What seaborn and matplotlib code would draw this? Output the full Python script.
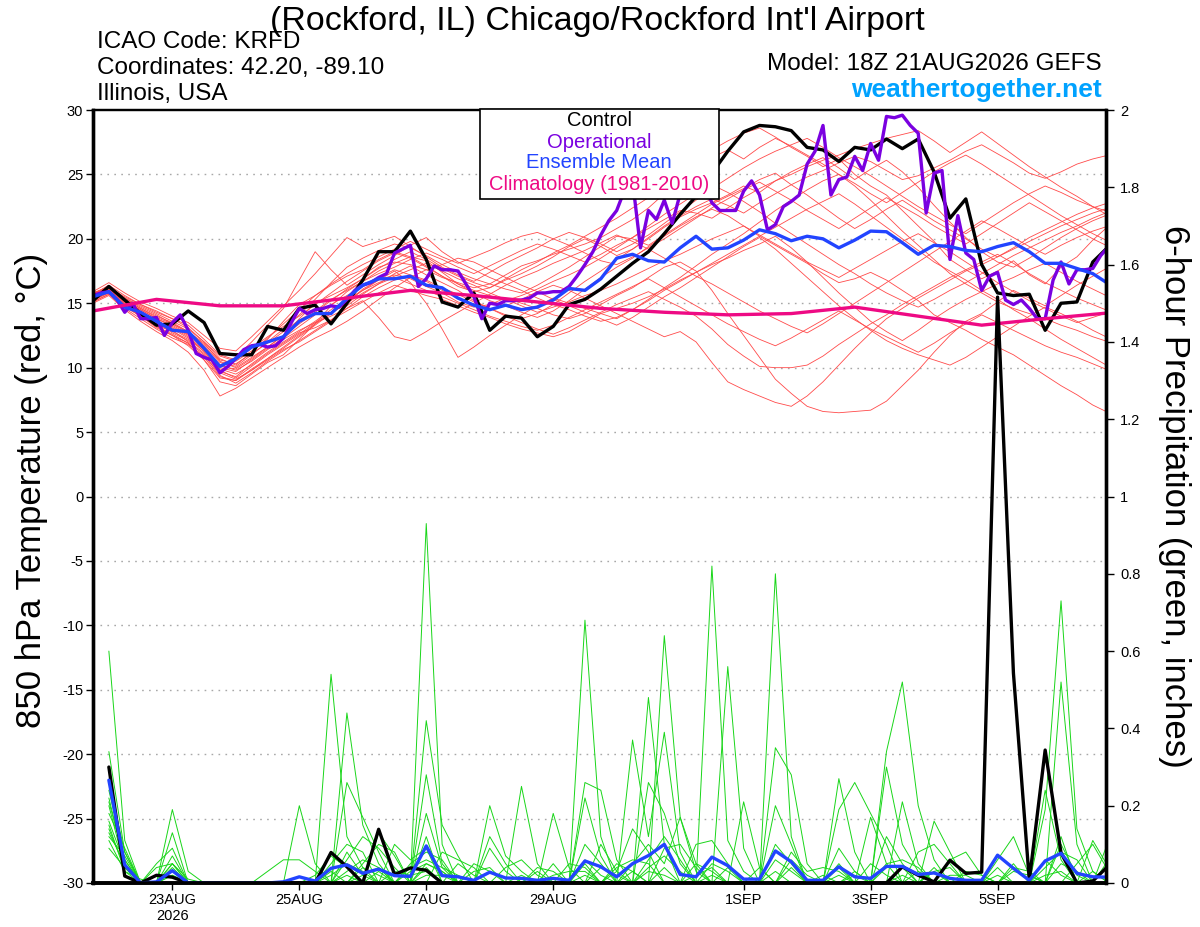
import numpy as np
import pandas as pd
import matplotlib
matplotlib.use("Agg")
import matplotlib.pyplot as plt
import seaborn as sns
from matplotlib.patches import Rectangle
from matplotlib.ticker import FormatStrFormatter

# GEFS 18Z 21AUG2026, KRFD.  Temps are 6-hourly from the init time,
# precip is 6-hour totals ending at each step (first one at +6h).

control_t = [15.2, 16.3, 15.25, 14.2, 13.3, 13.4, 14.4, 13.5, 11.1, 11.0, 11.0,
             13.2, 12.9, 14.6, 14.85, 13.4, 15.0, 16.8, 19.0, 19.0, 20.6,
             18.4, 15.1, 14.7, 15.8, 12.9, 14.0, 13.85, 12.4, 13.2, 14.9,
             15.3, 16.1, 17.1, 18.1, 19.0, 20.4, 21.9, 23.3, 25.1, 26.8,
             28.3, 28.8, 28.7, 28.4, 27.1, 26.9, 26.0, 27.1, 26.9, 27.75,
             27.0, 27.75, 25.2, 21.6, 23.1, 18.0, 15.8, 15.6, 15.7, 12.9,
             15.0, 15.1, 18.2, 19.4]

mean_t = [15.5, 15.9, 14.7, 14.3, 13.6, 12.9, 12.8, 11.5, 10.1, 10.7, 11.6,
          12.0, 12.4, 13.6, 14.2, 14.2, 15.4, 16.4, 16.9, 16.9, 17.1,
          16.4, 16.2, 15.4, 14.85, 14.5, 14.85, 14.5, 14.7, 15.25, 16.15,
          16.0, 16.9, 18.5, 18.8, 18.3, 18.2, 19.3, 20.2, 19.2, 19.3,
          19.9, 20.7, 20.4, 19.85, 20.2, 20.0, 19.3, 19.9, 20.6, 20.55,
          19.7, 18.8, 19.5, 19.4, 19.1, 19.0, 19.4, 19.7, 19.0, 18.1,
          18.1, 17.7, 17.3, 16.5]

# operational run comes in 3-hourly
oper_t = [15.6, 15.8, 15.9, 15.3, 14.3, 15.0, 13.8, 13.8, 13.9, 12.5,
          13.5, 14.1, 12.9, 11.1, 10.8, 10.6, 9.6, 10.1, 10.7, 11.4,
          11.7, 11.8, 11.6, 11.7, 12.3, 13.5, 14.6, 14.2, 14.5, 14.6,
          14.8, 14.7, 15.3, 16.0, 16.4, 16.6, 17.0, 17.3, 18.9, 19.2,
          19.5, 16.3, 16.9, 17.9, 17.6, 17.6, 17.5, 16.5, 15.5, 13.8,
          15.0, 14.9, 15.2, 15.2, 15.25, 15.4, 15.8, 15.8, 15.9, 15.9,
          16.3, 17.1, 18.0, 19.0, 20.3, 21.4, 22.2, 23.8, 24.5, 19.3,
          22.2, 21.5, 23.0, 21.2, 23.5, 24.5, 25.2, 24.2, 22.8, 22.2,
          22.2, 22.2, 23.7, 24.5, 23.4, 20.7, 21.1, 22.5, 22.9, 23.4,
          25.8, 26.8, 28.8, 23.4, 24.6, 24.8, 26.4, 25.3, 27.4, 26.1,
          29.5, 29.4, 29.6, 28.8, 28.2, 22.0, 25.1, 25.3, 18.4, 21.8,
          18.9, 18.4, 16.0, 17.1, 17.4, 15.25, 14.9, 15.25, 14.6, 13.8,
          13.8, 16.8, 18.2, 16.5, 17.6, 17.6, 17.7, 18.7, 19.4]

# 1981-2010 climatology, one value per day
clim_t = [14.4, 15.3, 14.8, 14.8, 15.4, 16.0, 15.6, 15.1, 14.6,
          14.3, 14.1, 14.2, 14.7, 14.0, 13.3, 13.8, 14.25]

# perturbed members (approximate, traced by eye)
t01 = [15.6, 16.4, 15.3, 14.6, 14.0, 13.5, 12.8, 11.9, 10.5, 10.0, 10.8,
       11.6, 12.5, 13.8, 15.0, 15.6, 16.2, 16.9, 17.8, 18.2, 18.0,
       17.6, 17.0, 16.6, 16.2, 16.5, 17.2, 17.9, 18.3, 18.8, 19.2,
       19.6, 20.1, 20.8, 21.5, 22.4, 23.5, 24.6, 25.8, 26.9, 27.6,
       28.2, 28.6, 27.9, 27.1, 26.4, 25.6, 26.2, 25.0, 24.1, 23.4,
       22.2, 21.0, 19.8, 18.4, 17.6, 16.9, 17.5, 18.3, 17.2, 16.5,
       17.8, 18.6, 19.9, 21.0]
t02 = [15.2, 15.9, 15.0, 14.2, 13.3, 12.8, 12.2, 11.3, 9.8, 9.2, 10.1,
       11.0, 11.8, 12.6, 13.5, 14.3, 15.0, 16.1, 16.8, 17.2, 16.9,
       16.3, 15.8, 15.1, 14.7, 14.9, 15.4, 15.0, 14.6, 14.1, 13.8,
       14.2, 14.9, 15.6, 16.2, 17.0, 17.8, 18.2, 17.5, 16.0, 14.2,
       12.5, 10.8, 9.1, 8.0, 7.0, 6.6, 6.5, 6.6, 6.7, 7.4,
       8.6, 9.8, 11.2, 12.5, 13.6, 14.2, 15.1, 16.0, 15.4, 14.8,
       15.6, 16.4, 17.1, 17.8]
t03 = [15.4, 16.0, 14.8, 14.0, 13.2, 12.6, 11.9, 10.6, 8.9, 8.6, 9.5,
       10.4, 11.0, 12.2, 13.4, 14.8, 15.9, 16.7, 17.5, 18.1, 18.6,
       18.3, 17.4, 16.5, 15.8, 15.2, 14.8, 14.3, 13.9, 14.4, 15.2,
       16.1, 17.0, 17.8, 18.5, 19.4, 20.2, 21.0, 21.7, 22.3, 21.8,
       21.0, 20.2, 19.5, 18.8, 18.1, 17.3, 16.6, 16.9, 17.4, 16.8,
       16.0, 15.2, 14.1, 13.5, 12.9, 12.2, 11.6, 11.0, 10.2, 9.4,
       8.6, 7.9, 7.1, 6.5]
t04 = [15.8, 16.2, 15.5, 14.9, 14.3, 13.8, 13.1, 12.0, 10.9, 10.5, 11.3,
       12.2, 13.6, 14.9, 15.6, 16.4, 17.1, 17.6, 18.4, 19.0, 18.6,
       17.9, 17.1, 16.3, 15.9, 16.2, 16.8, 17.3, 17.9, 18.6, 19.4,
       20.0, 19.4, 18.7, 19.2, 20.1, 21.0, 21.8, 22.5, 23.1, 22.6,
       22.0, 22.8, 23.5, 24.2, 24.8, 25.3, 25.9, 26.4, 26.0, 25.3,
       24.6, 24.9, 25.5, 26.1, 26.8, 27.3, 26.6, 25.9, 25.1, 24.7,
       25.2, 25.8, 26.2, 26.5]
t05 = [15.1, 15.7, 14.6, 13.8, 13.0, 12.3, 11.8, 10.9, 9.6, 9.1, 9.8,
       10.6, 11.4, 12.0, 12.8, 13.6, 14.8, 15.7, 16.5, 17.3, 17.9,
       17.2, 16.6, 16.0, 15.2, 14.6, 14.1, 13.8, 14.2, 14.9, 15.8,
       16.7, 17.5, 18.4, 19.2, 20.0, 20.9, 21.7, 22.3, 22.8, 23.4,
       24.1, 23.6, 24.5, 25.2, 25.8, 26.3, 25.5, 24.6, 25.4, 26.1,
       25.2, 24.0, 22.6, 21.3, 20.1, 19.0, 18.2, 17.8, 18.5, 19.3,
       20.1, 20.8, 21.4, 21.9]
t06 = [15.5, 16.1, 15.2, 14.4, 13.6, 13.1, 12.4, 11.2, 9.9, 9.5, 10.2,
       11.1, 11.9, 12.7, 13.1, 13.7, 14.4, 15.1, 15.8, 16.4, 16.0,
       15.6, 15.3, 14.8, 14.3, 13.9, 13.4, 13.0, 12.7, 12.4, 12.8,
       13.5, 14.2, 14.6, 15.0, 15.5, 16.1, 16.8, 17.4, 18.0, 18.5,
       19.1, 19.6, 20.2, 19.3, 18.2, 17.0, 15.8, 14.7, 13.6, 12.8,
       12.1, 12.9, 13.8, 14.6, 15.3, 15.9, 16.5, 17.0, 17.6, 18.1,
       17.4, 16.7, 16.1, 15.5]
t07 = [15.3, 15.8, 14.9, 14.1, 13.4, 12.9, 12.0, 11.0, 9.4, 8.8, 9.6,
       10.5, 11.3, 12.1, 12.9, 13.7, 14.6, 15.5, 16.2, 16.8, 17.1,
       16.7, 16.0, 15.4, 14.9, 14.5, 14.8, 15.3, 15.9, 16.4, 16.0,
       15.4, 14.8, 14.2, 13.6, 13.0, 12.4, 12.8, 12.0, 10.4, 8.9,
       8.3, 7.8, 7.3, 7.0, 7.8, 8.9, 10.2, 11.5, 12.7, 13.8,
       14.6, 15.4, 16.1, 16.8, 17.5, 18.0, 18.6, 19.2, 19.8, 20.4,
       21.0, 21.5, 22.0, 22.4]
t08 = [15.7, 16.3, 15.4, 14.7, 14.1, 13.4, 12.7, 11.7, 10.4, 10.1, 11.0,
       12.0, 13.0, 14.1, 15.3, 16.6, 17.8, 18.5, 19.1, 19.6, 19.3,
       18.7, 18.0, 17.4, 16.9, 16.5, 16.1, 15.8, 16.4, 17.1, 17.8,
       18.6, 19.4, 20.2, 20.0, 19.5, 20.3, 21.1, 21.9, 22.7, 23.3,
       23.9, 24.6, 25.1, 24.2, 23.4, 22.5, 21.6, 20.8, 21.5, 22.3,
       23.0, 22.2, 21.4, 20.7, 20.0, 19.2, 18.6, 19.3, 20.1, 20.7,
       21.3, 21.9, 22.4, 22.8]
t09 = [15.4, 16.0, 15.1, 14.3, 13.7, 13.0, 12.6, 11.5, 10.2, 10.8, 12.0,
       13.3, 14.6, 16.8, 19.0, 17.6, 16.4, 17.2, 18.0, 18.7, 19.5,
       20.1, 19.0, 18.2, 17.6, 17.0, 16.5, 16.0, 15.4, 14.9, 14.5,
       14.0, 13.6, 13.9, 14.5, 15.3, 16.2, 17.0, 17.9, 18.8, 19.6,
       20.4, 21.3, 22.2, 23.0, 23.8, 24.5, 25.0, 24.1, 23.0, 21.8,
       20.6, 19.5, 18.4, 17.3, 16.5, 15.8, 15.1, 14.6, 14.2, 13.8,
       13.3, 12.9, 12.4, 12.0]
t10 = [15.0, 15.6, 14.5, 13.6, 12.8, 12.1, 11.2, 9.8, 7.8, 8.4, 9.2,
       10.0, 10.8, 11.6, 12.3, 12.9, 13.6, 14.4, 15.3, 16.2, 17.0,
       17.6, 18.0, 18.5, 18.2, 17.6, 17.0, 16.4, 15.9, 15.3, 14.8,
       14.3, 13.8, 13.3, 13.9, 14.7, 15.5, 16.2, 17.0, 17.8, 18.6,
       19.4, 20.1, 19.2, 18.1, 17.0, 15.9, 14.8, 13.8, 12.9, 12.1,
       11.5, 11.0, 10.6, 10.2, 10.8, 11.6, 12.4, 13.2, 14.0, 14.7,
       14.2, 13.6, 12.9, 12.3]
t11 = [15.9, 16.6, 15.8, 15.1, 14.6, 14.0, 13.5, 12.5, 11.5, 11.3, 12.4,
       13.6, 14.8, 16.0, 17.3, 18.7, 20.1, 19.4, 19.8, 20.2, 19.4,
       18.6, 17.8, 17.2, 16.7, 17.4, 18.1, 18.7, 19.3, 20.0, 20.5,
       20.1, 19.6, 19.0, 19.6, 20.3, 21.2, 22.1, 23.0, 23.9, 24.7,
       25.5, 26.2, 26.8, 27.3, 27.8, 27.1, 26.3, 25.6, 24.9, 24.1,
       23.3, 22.5, 21.8, 21.1, 20.4, 21.2, 22.0, 22.8, 23.5, 24.1,
       23.6, 23.0, 22.5, 22.1]
t12 = [15.5, 16.0, 15.1, 14.5, 13.8, 13.3, 12.6, 11.6, 10.2, 9.8, 10.5,
       11.4, 12.2, 12.9, 13.5, 14.0, 14.6, 15.2, 13.9, 12.4, 12.1,
       12.8, 13.6, 14.3, 15.0, 15.7, 16.4, 17.0, 17.5, 18.1, 18.6,
       19.1, 19.7, 20.3, 19.8, 19.2, 18.5, 17.8, 17.1, 16.5, 15.8,
       15.1, 14.4, 13.8, 13.2, 12.7, 13.4, 14.2, 15.0, 15.8, 16.6,
       17.4, 18.2, 19.0, 19.8, 20.6, 21.4, 20.8, 20.1, 19.4, 18.8,
       19.5, 20.1, 20.6, 21.0]
t13 = [15.2, 15.8, 14.7, 14.0, 13.1, 12.5, 11.7, 10.6, 9.2, 9.0, 9.9,
       10.7, 11.5, 12.4, 13.3, 14.2, 15.1, 16.0, 16.8, 17.5, 16.6,
       15.0, 13.0, 10.8, 11.6, 12.5, 13.3, 14.1, 14.8, 15.4, 15.0,
       14.6, 14.2, 13.8, 14.5, 15.2, 16.0, 16.7, 17.4, 18.1, 18.8,
       19.5, 20.2, 20.9, 21.6, 22.3, 22.9, 23.5, 22.7, 21.8, 20.9,
       20.0, 19.1, 18.2, 17.5, 16.8, 16.0, 15.3, 14.5, 13.8, 13.0,
       12.2, 11.5, 10.8, 10.1]
t14 = [15.6, 16.2, 15.3, 14.6, 13.9, 13.4, 12.8, 11.8, 10.6, 10.3, 11.1,
       11.9, 12.8, 13.7, 14.4, 15.3, 16.0, 16.7, 17.3, 17.8, 18.4,
       18.9, 18.4, 17.8, 17.3, 17.9, 18.5, 19.1, 19.6, 19.2, 18.7,
       18.2, 18.8, 19.5, 20.1, 20.8, 21.5, 22.2, 22.0, 21.6, 22.4,
       23.2, 23.9, 24.5, 25.0, 25.6, 26.1, 26.5, 27.0, 27.4, 27.8,
       28.1, 28.4, 27.6, 26.7, 27.5, 28.3, 27.4, 26.5, 25.6, 24.8,
       24.0, 23.3, 22.5, 21.8]
t15 = [15.3, 15.9, 14.9, 14.2, 13.5, 12.7, 12.1, 11.1, 9.7, 9.3, 10.3,
       11.2, 12.0, 12.8, 13.6, 14.5, 15.3, 16.0, 16.6, 17.1, 17.6,
       18.1, 17.5, 16.9, 16.4, 15.8, 15.3, 14.8, 14.3, 14.7, 15.1,
       15.6, 16.0, 16.5, 17.1, 17.7, 18.3, 18.8, 19.4, 20.0, 20.5,
       21.0, 20.3, 19.6, 18.9, 18.2, 17.6, 17.0, 17.7, 18.4, 19.1,
       19.8, 20.4, 19.7, 19.0, 18.2, 17.4, 16.6, 15.9, 15.2, 14.6,
       14.0, 13.5, 13.9, 14.3]
t16 = [15.7, 16.4, 15.6, 14.9, 14.4, 13.8, 13.3, 12.2, 11.0, 10.6, 11.5,
       12.4, 13.2, 14.0, 14.9, 15.8, 16.7, 17.5, 18.3, 18.9, 18.5,
       17.8, 17.1, 16.5, 16.0, 15.6, 15.2, 15.6, 16.1, 16.7, 17.2,
       17.8, 18.5, 19.3, 20.1, 21.0, 21.9, 22.7, 23.5, 24.2, 23.6,
       22.9, 22.1, 21.2, 20.4, 19.6, 18.8, 18.0, 17.3, 16.5, 15.8,
       15.2, 14.7, 15.3, 16.0, 16.6, 17.3, 18.0, 18.7, 19.3, 19.9,
       20.5, 21.0, 21.6, 22.1]
t17 = [15.4, 15.9, 15.0, 14.3, 13.6, 13.0, 12.3, 11.4, 10.0, 9.7, 10.6,
       11.5, 12.3, 13.2, 14.1, 14.9, 15.6, 16.3, 17.0, 17.6, 17.2,
       16.8, 16.2, 15.7, 15.1, 14.6, 14.0, 13.5, 13.0, 12.6, 13.1,
       13.7, 14.3, 14.9, 15.4, 15.9, 15.3, 14.7, 14.0, 13.0, 11.8,
       10.9, 10.1, 10.0, 10.0, 10.2, 10.9, 11.8, 12.6, 13.4, 14.1,
       14.9, 15.6, 16.3, 17.0, 17.6, 18.2, 18.8, 18.1, 17.3, 16.6,
       16.0, 15.4, 14.9, 14.4]
t18 = [15.8, 16.3, 15.4, 14.8, 14.2, 13.6, 13.0, 12.0, 10.7, 10.2, 11.2,
       12.3, 13.4, 14.5, 15.6, 16.5, 17.3, 18.0, 18.6, 19.2, 19.8,
       19.2, 18.6, 18.1, 18.6, 19.1, 19.7, 20.2, 20.5, 20.0, 19.5,
       20.2, 20.9, 21.6, 22.4, 23.2, 24.0, 24.8, 25.6, 26.3, 26.9,
       26.2, 27.1, 27.8, 27.2, 26.5, 25.8, 25.0, 24.3, 23.5, 22.8,
       23.6, 24.4, 25.2, 25.9, 26.5, 25.8, 25.0, 24.2, 23.4, 22.6,
       21.8, 21.1, 20.4, 19.8]
t19 = [15.1, 15.7, 14.8, 14.0, 13.2, 12.5, 11.9, 10.8, 9.3, 9.0, 9.8,
       10.7, 11.6, 12.5, 13.4, 14.2, 15.0, 15.8, 16.5, 17.0, 16.5,
       16.0, 15.5, 15.0, 14.5, 14.0, 13.6, 13.2, 12.9, 13.3, 13.9,
       14.5, 15.1, 15.7, 16.3, 16.9, 16.2, 15.5, 14.8, 14.1, 13.4,
       12.8, 12.2, 11.7, 12.3, 13.0, 13.7, 14.4, 13.7, 13.0, 12.4,
       11.8, 11.2, 11.9, 12.7, 13.4, 14.1, 13.5, 12.9, 12.3, 11.7,
       11.2, 10.8, 10.3, 9.8]
t20 = [15.6, 16.1, 15.2, 14.5, 13.8, 13.2, 12.5, 11.4, 10.1, 9.9, 10.7,
       11.6, 12.5, 13.4, 14.3, 15.2, 16.1, 16.9, 17.7, 18.4, 19.0,
       18.4, 17.7, 17.1, 16.6, 16.2, 16.9, 17.6, 18.2, 18.9, 19.5,
       18.9, 18.3, 18.0, 18.6, 19.3, 20.0, 20.8, 21.6, 22.4, 23.1,
       23.8, 24.4, 23.7, 23.0, 22.2, 21.5, 20.8, 21.6, 22.4, 23.2,
       22.5, 21.8, 21.0, 20.3, 19.6, 20.4, 21.2, 22.0, 22.8, 22.1,
       21.4, 20.7, 20.0, 19.4]

# 6-hour precipitation (inches)
control_p = [0.30, 0.018, 0, 0.02, 0.015, 0, 0, 0,
             0, 0, 0, 0, 0, 0, 0.079, 0.042,
             0, 0.139, 0.022, 0.039, 0.033, 0, 0, 0,
             0, 0, 0, 0, 0, 0, 0, 0,
             0, 0, 0, 0, 0, 0, 0, 0,
             0, 0, 0, 0, 0, 0, 0, 0,
             0, 0, 0.042, 0.02, 0.003, 0.059, 0.025, 0.028,
             1.516, 0.543, 0.007, 0.344, 0.078, 0, 0.005, 0.045]
mean_p = [0.266, 0.047, 0, 0.003, 0.032, 0, 0, 0,
          0, 0, 0, 0.003, 0.016, 0.005, 0.038, 0.047,
          0.025, 0.036, 0.019, 0.017, 0.096, 0.019, 0.016, 0.007,
          0.028, 0.013, 0.012, 0.007, 0.012, 0.007, 0.057, 0.042,
          0.016, 0.05, 0.071, 0.1, 0.022, 0.016, 0.067, 0.045,
          0.01, 0.01, 0.083, 0.055, 0.007, 0.007, 0.042, 0.016,
          0.012, 0.043, 0.043, 0.022, 0.026, 0.012, 0.007, 0.007,
          0.072, 0.038, 0.007, 0.057, 0.077, 0.025, 0.016, 0.015]

p01 = [.60, .11, 0, 0, .05, 0, 0, 0,
       0, 0, 0, 0, 0, 0, .54, .12,
       .04, 0, 0, 0, 0, 0, 0, 0,
       0, 0, 0, 0, 0, 0, .68, .12,
       0, 0, 0, 0, 0, 0, 0, 0,
       0, 0, 0, 0, 0, 0, .27, .08,
       0, 0, 0, 0, 0, 0, 0, 0,
       0, 0, 0, 0, .12, 0, 0, 0]
p02 = [.34, .08, 0, 0, .19, .03, 0, 0,
       0, 0, 0, 0, 0, 0, 0, .44,
       .15, .05, 0, 0, .93, .10, 0, 0,
       0, 0, 0, 0, 0, 0, 0, 0,
       0, 0, 0, .64, .17, .05, 0, 0,
       0, 0, 0, 0, 0, 0, 0, 0,
       0, .12, .05, 0, 0, 0, 0, 0,
       0, 0, 0, 0, 0, 0, 0, 0]
p03 = [.22, .05, 0, 0, .13, 0, 0, 0,
       0, 0, 0, 0, .20, .05, 0, 0,
       0, 0, 0, 0, .42, .15, .07, 0,
       0, 0, 0, 0, 0, 0, 0, 0,
       0, 0, 0, 0, 0, 0, .82, .11,
       .03, 0, 0, 0, 0, 0, 0, 0,
       0, 0, 0, 0, 0, 0, 0, 0,
       0, 0, 0, .19, .73, .14, .03, 0]
p04 = [.21, .06, 0, .05, .09, 0, 0, 0,
       0, 0, 0, 0, 0, 0, 0, .26,
       .17, .08, 0, 0, .28, .05, 0, 0,
       0, 0, 0, 0, .18, .04, 0, 0,
       0, 0, .48, .10, 0, 0, 0, 0,
       0, 0, .80, .12, 0, 0, 0, 0,
       0, 0, 0, 0, 0, 0, 0, 0,
       .06, .12, .02, 0, 0, 0, 0, 0]
p05 = [.20, .04, 0, 0, .07, 0, 0, 0,
       0, 0, .03, .06, .06, .03, 0, 0,
       0, .13, .07, 0, .12, 0, 0, 0,
       .20, .07, .03, 0, 0, 0, 0, 0,
       0, .37, .12, .39, .08, 0, 0, 0,
       0, 0, 0, 0, 0, 0, .19, .26,
       .18, .10, 0, 0, .04, 0, 0, 0,
       0, 0, 0, 0, 0, 0, 0, 0]
p06 = [.15, .03, .01, 0, .05, 0, 0, 0,
       0, 0, 0, 0, 0, 0, .05, .10,
       .08, 0, .10, .06, .09, 0, 0, 0,
       0, 0, .25, .05, 0, 0, .26, .24,
       .06, 0, 0, 0, 0, 0, 0, .56,
       .09, 0, 0, 0, 0, 0, 0, 0,
       0, .34, .52, .20, .06, 0, 0, 0,
       0, 0, 0, 0, .52, .10, 0, .11]
p07 = [.13, .05, 0, 0, .03, 0, 0, 0,
       0, 0, 0, 0, 0, 0, 0, .06,
       .12, .09, .04, 0, 0, .08, .06, .04,
       0, 0, 0, 0, 0, 0, .22, .07,
       0, 0, .26, .18, .05, 0, 0, 0,
       0, 0, .35, .28, .05, 0, 0, 0,
       0, .30, .10, .03, 0, .06, .08, .02,
       0, 0, 0, 0, 0, 0, 0, 0]
p08 = [.12, .07, 0, 0, .02, 0, 0, 0,
       0, 0, 0, 0, 0, .02, .07, .04,
       0, 0, 0, .05, .08, .06, 0, 0,
       .12, .05, 0, 0, .05, 0, 0, .10,
       .03, .14, .08, 0, 0, .10, .11, .05,
       0, 0, .20, .10, 0, 0, 0, 0,
       .17, .05, 0, 0, .16, .08, 0, 0,
       0, 0, 0, .24, .06, 0, 0, 0]
p09 = [.18, .09, 0, .04, .05, .01, 0, 0,
       0, 0, 0, 0, 0, 0, 0, 0,
       .05, .10, .08, 0, .05, .03, 0, 0,
       .09, .03, 0, .03, 0, .05, .04, 0,
       .05, .03, 0, .09, .10, .04, 0, 0,
       .21, .04, 0, 0, 0, 0, .09, .03,
       0, 0, 0, .08, .10, .05, 0, 0,
       0, .04, .03, 0, 0, 0, .11, .04]
p10 = [.16, .05, 0, 0, 0, 0, 0, 0,
       0, 0, 0, 0, 0, 0, 0, .03,
       .06, .04, 0, .04, .06, .04, .02, 0,
       0, .04, .06, .02, 0, 0, .06, .02,
       0, .05, .10, .05, .17, .03, 0, 0,
       0, .04, 0, .08, .03, .04, .03, 0,
       0, 0, .21, .05, 0, 0, .03, .02,
       0, 0, 0, 0, 0, .05, .10, .03]
p11 = [.24, .06, 0, 0, .02, 0, 0, 0,
       0, 0, 0, 0, 0, 0, 0, 0,
       .02, .04, 0, 0, .04, 0, 0, .03,
       .04, 0, 0, 0, .02, .03, .03, 0,
       .03, 0, .06, .12, .06, 0, .05, .03,
       0, 0, 0, .04, 0, .02, 0, .03,
       0, .05, .06, .04, 0, 0, 0, 0,
       .02, 0, 0, .04, .08, .06, 0, .06]
p12 = [.14, .04, 0, 0, 0, 0, 0, 0,
       0, 0, 0, 0, 0, 0, .02, .05,
       .03, 0, .03, .02, .03, 0, .05, .02,
       0, 0, 0, 0, 0, 0, .10, .05,
       0, .03, 0, .04, 0, .05, .03, 0,
       0, 0, .06, .03, 0, 0, .04, 0,
       .05, .02, 0, 0, .03, .04, 0, 0,
       0, .03, .02, 0, .05, .03, 0, 0]
p13 = [.11, .03, 0, 0, 0, 0, 0, 0,
       0, 0, 0, 0, 0, 0, 0, .02,
       0, .03, 0, 0, .02, .02, 0, 0,
       0, 0, .02, 0, 0, 0, .02, 0,
       0, 0, .03, .02, 0, 0, .02, 0,
       0, 0, .03, 0, 0, 0, .02, 0,
       0, 0, .02, 0, 0, 0, 0, 0,
       .04, 0, 0, .02, .03, 0, 0, 0]
p14 = [.26, .08, 0, 0, .04, 0, 0, 0,
       0, 0, 0, 0, 0, 0, 0, .08,
       .02, 0, 0, 0, .18, .04, 0, .05,
       .03, 0, 0, 0, 0, 0, 0, .04,
       .02, 0, .04, .07, .03, 0, 0, .04,
       0, 0, .10, .05, 0, 0, .05, 0,
       0, .04, .04, 0, .03, 0, 0, 0,
       0, 0, 0, 0, .10, .02, 0, 0]
p15 = [.09, .04, 0, 0, 0, 0, 0, 0,
       0, 0, 0, 0, 0, 0, .03, 0,
       .04, .02, 0, .03, .05, .03, 0, 0,
       0, 0, 0, .04, .03, 0, .05, 0,
       .04, .06, .05, 0, 0, .02, .04, 0,
       0, 0, 0, .06, .02, 0, 0, .02,
       0, 0, 0, .03, 0, .02, .02, 0,
       0, .05, 0, .06, .02, 0, .03, 0]

tick_hours = [30, 78, 126, 174, 246, 294, 342]
tick_labels = ["23AUG\n2026", "25AUG", "27AUG", "29AUG", "1SEP", "3SEP", "5SEP"]

# --- build long tables for seaborn ---
hours6 = np.arange(0, 385, 6)
hours3 = np.arange(0, 385, 3)
hours24 = np.arange(0, 385, 24)
phours = np.arange(6, 385, 6)

temp_members = [t01, t02, t03, t04, t05, t06, t07, t08, t09, t10,
                t11, t12, t13, t14, t15, t16, t17, t18, t19, t20]
rain_members = [p01, p02, p03, p04, p05, p06, p07, p08, p09, p10,
                p11, p12, p13, p14, p15]

rows = []
for n, vals in enumerate(temp_members):
    for h, v in zip(hours6, vals, strict=True):
        rows.append((n, h, v))
tdf = pd.DataFrame(rows, columns=["member", "hour", "t850"])

rows = []
for n, vals in enumerate(rain_members):
    for h, v in zip(phours, vals, strict=True):
        rows.append((n, h, v))
pdf = pd.DataFrame(rows, columns=["member", "hour", "precip"])

assert len(control_t) == 65 and len(mean_t) == 65 and len(oper_t) == 129
assert len(control_p) == 64 and len(mean_p) == 64 and len(clim_t) == 17

# --- plot ---
sns.set_style("ticks")
plt.rcParams["font.family"] = ["Liberation Sans", "DejaVu Sans"]
plt.rcParams["axes.unicode_minus"] = False
plt.rcParams["text.color"] = "black"
plt.rcParams["xtick.color"] = "black"
plt.rcParams["ytick.color"] = "black"

W, H = 1200, 927
fig = plt.figure(figsize=(W / 100, H / 100), dpi=100)
L, R, T, B = 93, 1106, 110, 883
ax = fig.add_axes([L / W, 1 - B / H, (R - L) / W, (B - T) / H])

RED = "#ff4a4a"
GREEN = "#19d619"
PURPLE = "#7a00e0"
BLUE = "#2244ff"
MAGENTA = "#ee0a84"
LW = 2.4

sns.lineplot(data=tdf, x="hour", y="t850", units="member", estimator=None,
             color=RED, lw=0.6, ax=ax, legend=False)
sns.lineplot(x=hours6, y=control_t, color="black", lw=LW, ax=ax)
sns.lineplot(x=hours3, y=oper_t, color=PURPLE, lw=LW, ax=ax)
sns.lineplot(x=hours6, y=mean_t, color=BLUE, lw=LW, ax=ax)
sns.lineplot(x=hours24, y=clim_t, color=MAGENTA, lw=LW, ax=ax)

ax.set_xlim(0, 383)
ax.set_ylim(-30, 30)
ax.set_yticks(np.arange(-30, 31, 5))
ax.yaxis.set_major_formatter(FormatStrFormatter("%g"))
ax.set_xticks(tick_hours)
ax.set_xticklabels(tick_labels)
ax.set_xlabel("")
ax.set_ylabel("")
for y in range(-25, 30, 5):
    ax.axhline(y, color="#a8a8a8", lw=1.0, ls=(0, (1.2, 3.8)), zorder=0)
ax.tick_params(axis="both", direction="out", length=5, width=1,
               colors="black", labelsize=10.5, pad=2)

ax2 = ax.twinx()
sns.lineplot(data=pdf, x="hour", y="precip", units="member", estimator=None,
             color=GREEN, lw=0.7, ax=ax2, legend=False)
sns.lineplot(x=phours, y=control_p, color="black", lw=LW, ax=ax2)
sns.lineplot(x=phours, y=mean_p, color=BLUE, lw=LW, ax=ax2)
ax2.set_ylim(0, 2)
ax2.set_xlim(0, 383)
ax2.set_yticks(np.arange(0, 2.01, 0.2))
ax2.yaxis.set_major_formatter(FormatStrFormatter("%g"))
ax2.set_ylabel("")
ax2.tick_params(axis="y", direction="out", length=6, width=1,
                colors="black", labelsize=10.5, pad=4)

for a in (ax, ax2):
    for side, w in (("left", 2.4), ("right", 2.4), ("bottom", 2.6), ("top", 1.6)):
        a.spines[side].set_visible(True)
        a.spines[side].set_color("black")
        a.spines[side].set_linewidth(w)

# axis titles
fig.text(32 / W, 1 - 490 / H, "850 hPa Temperature (red, \u00b0C)",
         rotation=90, ha="center", va="center", fontsize=25, color="black")
fig.text(1175 / W, 1 - 496 / H, "6-hour Precipitation (green, inches)",
         rotation=-90, ha="center", va="center", fontsize=25, color="black")

# header
fig.text(597 / W, 1 - 30 / H, "(Rockford, IL) Chicago/Rockford Int'l Airport",
         ha="center", va="baseline", fontsize=24.5, color="black")
fig.text(97 / W, 1 - 48 / H, "ICAO Code: KRFD", ha="left", va="baseline",
         fontsize=17.5, color="black")
fig.text(97 / W, 1 - 74 / H, "Coordinates: 42.20, -89.10", ha="left", va="baseline",
         fontsize=17.5, color="black")
fig.text(97 / W, 1 - 100 / H, "Illinois, USA", ha="left", va="baseline",
         fontsize=17.5, color="black")
fig.text(1102 / W, 1 - 70 / H, "Model: 18Z 21AUG2026 GEFS", ha="right", va="baseline",
         fontsize=17.5, color="black")
fig.text(1102 / W, 1 - 97 / H, "weathertogether.net", ha="right", va="baseline",
         fontsize=19, fontweight="bold", color="#00a2ff")

# legend box
fig.add_artist(Rectangle((480 / W, 1 - 199 / H), (719 - 480) / W, (199 - 109) / H,
                         transform=fig.transFigure, facecolor="white",
                         edgecolor="black", lw=1.2, zorder=5))
for txt, col, yc in (("Control", "black", 121), ("Operational", PURPLE, 142),
                     ("Ensemble Mean", BLUE, 163), ("Climatology (1981-2010)", MAGENTA, 185)):
    fig.text(599 / W, 1 - yc / H, txt, ha="center", va="center",
             fontsize=14.5, color=col, zorder=6)

fig.savefig("out.png", dpi=100)
